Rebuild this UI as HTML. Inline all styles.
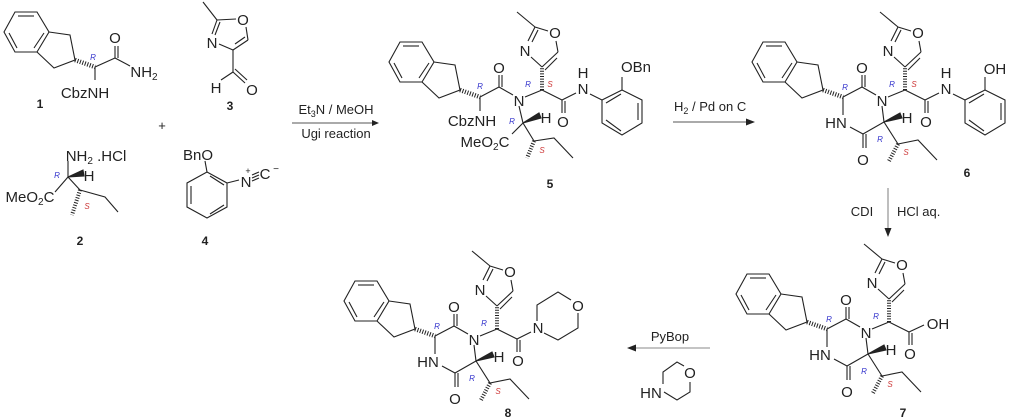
<!DOCTYPE html>
<html><head><meta charset="utf-8"><style>
html,body{margin:0;padding:0;background:#fff;}
svg{display:block}
text{font-family:"Liberation Sans",Arial,sans-serif;fill:#222;}
.a{font-size:15px;}
.r{font-size:8px;font-style:italic;fill:#3333cc;}
.s{font-size:8px;font-style:italic;fill:#cc3333;}
.n{font-size:12px;font-weight:bold;}
.c{font-size:13px;}
</style></head><body>
<svg width="1024" height="419" viewBox="0 0 1024 419" xmlns="http://www.w3.org/2000/svg">
<g stroke="#222" stroke-width="1.1" fill="none">

<g id="c6">
 <polygon points="763,42 785,42 797,62 785,82 763,82 752,62"/>
 <line x1="766" y1="46" x2="782" y2="46"/><line x1="792" y1="63" x2="782" y2="78"/><line x1="765" y1="78" x2="757" y2="63"/>
 <polyline points="797,62 818,65 823,90 802,98 785,82"/>
 <line x1="823" y1="90" x2="843" y2="97" stroke-width="4.5" stroke-dasharray="1,1.6"/>
 <line x1="843" y1="97" x2="862" y2="87"/><line x1="862" y1="87" x2="876" y2="95"/>
 <line x1="882" y1="106" x2="884" y2="122"/><line x1="884" y1="122" x2="863" y2="134"/>
 <line x1="863" y1="134" x2="850" y2="127"/><line x1="843" y1="115" x2="843" y2="97"/>
 <line x1="862" y1="87" x2="862" y2="75"/><line x1="865" y1="87" x2="865" y2="75"/>
 <line x1="863" y1="134" x2="863" y2="148"/><line x1="866" y1="134" x2="866" y2="148"/>
 <polygon points="884,122 900,113 902,118" fill="#222"/>
 <line x1="884" y1="122" x2="898" y2="144"/>
 <line x1="898" y1="144" x2="889" y2="161" stroke-width="4" stroke-dasharray="1,1.6"/>
 <polyline points="898,144 918,140 937,160"/>
 <line x1="888" y1="97" x2="905" y2="90"/>
 <line x1="905" y1="90" x2="905" y2="67" stroke-width="4" stroke-dasharray="1,1.6"/>
 <line x1="905" y1="67" x2="921" y2="52"/><line x1="908" y1="70" x2="920" y2="58"/>
 <line x1="921" y1="52" x2="919" y2="41"/><line x1="911" y1="31" x2="898" y2="27"/>
 <line x1="898" y1="27" x2="891" y2="41"/><line x1="901" y1="30" x2="895" y2="42"/>
 <line x1="894" y1="57" x2="905" y2="67"/><line x1="898" y1="27" x2="880" y2="12"/>
 <line x1="905" y1="90" x2="925" y2="100"/>
 <line x1="925" y1="100" x2="925" y2="113"/><line x1="928" y1="101" x2="928" y2="113"/>
 <line x1="925" y1="100" x2="939" y2="93"/><line x1="953" y1="94" x2="965" y2="100"/>
 <polygon points="965,100 985,90 1005,100 1005,123 985,135 965,123"/>
 <line x1="1001" y1="103" x2="1001" y2="120"/><line x1="969" y1="103" x2="984" y2="94"/><line x1="969" y1="120" x2="984" y2="131"/>
 <line x1="985" y1="90" x2="985" y2="77"/>
</g>

<g transform="translate(-16,232)">
 <polygon points="763,42 785,42 797,62 785,82 763,82 752,62"/>
 <line x1="766" y1="46" x2="782" y2="46"/><line x1="792" y1="63" x2="782" y2="78"/><line x1="765" y1="78" x2="757" y2="63"/>
 <polyline points="797,62 818,65 823,90 802,98 785,82"/>
 <line x1="823" y1="90" x2="843" y2="97" stroke-width="4.5" stroke-dasharray="1,1.6"/>
 <line x1="843" y1="97" x2="862" y2="87"/><line x1="862" y1="87" x2="876" y2="95"/>
 <line x1="882" y1="106" x2="884" y2="122"/><line x1="884" y1="122" x2="863" y2="134"/>
 <line x1="863" y1="134" x2="850" y2="127"/><line x1="843" y1="115" x2="843" y2="97"/>
 <line x1="862" y1="87" x2="862" y2="75"/><line x1="865" y1="87" x2="865" y2="75"/>
 <line x1="863" y1="134" x2="863" y2="148"/><line x1="866" y1="134" x2="866" y2="148"/>
 <polygon points="884,122 900,113 902,118" fill="#222"/>
 <line x1="884" y1="122" x2="898" y2="144"/>
 <line x1="898" y1="144" x2="889" y2="161" stroke-width="4" stroke-dasharray="1,1.6"/>
 <polyline points="898,144 918,140 937,160"/>
 <line x1="888" y1="97" x2="905" y2="90"/>
 <line x1="905" y1="90" x2="905" y2="67" stroke-width="4" stroke-dasharray="1,1.6"/>
 <line x1="905" y1="67" x2="921" y2="52"/><line x1="908" y1="70" x2="920" y2="58"/>
 <line x1="921" y1="52" x2="919" y2="41"/><line x1="911" y1="31" x2="898" y2="27"/>
 <line x1="898" y1="27" x2="891" y2="41"/><line x1="901" y1="30" x2="895" y2="42"/>
 <line x1="894" y1="57" x2="905" y2="67"/><line x1="898" y1="27" x2="880" y2="12"/>
 <line x1="905" y1="90" x2="925" y2="100"/>
 <line x1="925" y1="100" x2="925" y2="113"/><line x1="928" y1="101" x2="928" y2="113"/>
 <line x1="925" y1="100" x2="940" y2="93"/>
</g>

<g transform="translate(-408,239)">
 <polygon points="763,42 785,42 797,62 785,82 763,82 752,62"/>
 <line x1="766" y1="46" x2="782" y2="46"/><line x1="792" y1="63" x2="782" y2="78"/><line x1="765" y1="78" x2="757" y2="63"/>
 <polyline points="797,62 818,65 823,90 802,98 785,82"/>
 <line x1="823" y1="90" x2="843" y2="97" stroke-width="4.5" stroke-dasharray="1,1.6"/>
 <line x1="843" y1="97" x2="862" y2="87"/><line x1="862" y1="87" x2="876" y2="95"/>
 <line x1="882" y1="106" x2="884" y2="122"/><line x1="884" y1="122" x2="863" y2="134"/>
 <line x1="863" y1="134" x2="850" y2="127"/><line x1="843" y1="115" x2="843" y2="97"/>
 <line x1="862" y1="87" x2="862" y2="75"/><line x1="865" y1="87" x2="865" y2="75"/>
 <line x1="863" y1="134" x2="863" y2="148"/><line x1="866" y1="134" x2="866" y2="148"/>
 <polygon points="884,122 900,113 902,118" fill="#222"/>
 <line x1="884" y1="122" x2="898" y2="144"/>
 <line x1="898" y1="144" x2="889" y2="161" stroke-width="4" stroke-dasharray="1,1.6"/>
 <polyline points="898,144 918,140 937,160"/>
 <line x1="888" y1="97" x2="905" y2="90"/>
 <line x1="905" y1="90" x2="905" y2="67" stroke-width="4" stroke-dasharray="1,1.6"/>
 <line x1="905" y1="67" x2="921" y2="52"/><line x1="908" y1="70" x2="920" y2="58"/>
 <line x1="921" y1="52" x2="919" y2="41"/><line x1="911" y1="31" x2="898" y2="27"/>
 <line x1="898" y1="27" x2="891" y2="41"/><line x1="901" y1="30" x2="895" y2="42"/>
 <line x1="894" y1="57" x2="905" y2="67"/><line x1="898" y1="27" x2="880" y2="12"/>
 <line x1="905" y1="90" x2="925" y2="100"/>
 <line x1="925" y1="100" x2="925" y2="113"/><line x1="928" y1="101" x2="928" y2="113"/>
 <line x1="925" y1="100" x2="939" y2="93"/>
 <polyline points="945,82 945,66 966,53 979,61"/>
 <polyline points="986,74 986,89 966,101 952,94"/>
</g>

<g transform="translate(-363,0)">
 <polygon points="763,42 785,42 797,62 785,82 763,82 752,62"/>
 <line x1="766" y1="46" x2="782" y2="46"/><line x1="792" y1="63" x2="782" y2="78"/><line x1="765" y1="78" x2="757" y2="63"/>
 <polyline points="797,62 818,65 823,90 802,98 785,82"/>
 <line x1="823" y1="90" x2="843" y2="97" stroke-width="4.5" stroke-dasharray="1,1.6"/>
 <line x1="843" y1="97" x2="862" y2="87"/><line x1="862" y1="87" x2="876" y2="95"/>
 <line x1="843" y1="97" x2="843" y2="111"/>
 <line x1="862" y1="87" x2="862" y2="75"/><line x1="865" y1="87" x2="865" y2="75"/>
 <line x1="882" y1="106" x2="886" y2="123"/>
 <polygon points="886,123 902,113 904,118" fill="#222"/>
 <line x1="886" y1="123" x2="875" y2="134"/>
 <line x1="886" y1="123" x2="897" y2="141"/>
 <line x1="897" y1="141" x2="890" y2="158" stroke-width="4" stroke-dasharray="1,1.6"/>
 <polyline points="897,141 917,138 936,158"/>
 <line x1="888" y1="97" x2="905" y2="90"/>
 <line x1="905" y1="90" x2="905" y2="67" stroke-width="4" stroke-dasharray="1,1.6"/>
 <line x1="905" y1="67" x2="921" y2="52"/><line x1="908" y1="70" x2="920" y2="58"/>
 <line x1="921" y1="52" x2="919" y2="41"/><line x1="911" y1="31" x2="898" y2="27"/>
 <line x1="898" y1="27" x2="891" y2="41"/><line x1="901" y1="30" x2="895" y2="42"/>
 <line x1="894" y1="57" x2="905" y2="67"/><line x1="898" y1="27" x2="880" y2="12"/>
 <line x1="905" y1="90" x2="925" y2="100"/>
 <line x1="925" y1="100" x2="925" y2="113"/><line x1="928" y1="101" x2="928" y2="113"/>
 <line x1="925" y1="100" x2="939" y2="93"/><line x1="953" y1="94" x2="965" y2="100"/>
 <polygon points="965,100 985,90 1005,100 1005,123 985,135 965,123"/>
 <line x1="1001" y1="103" x2="1001" y2="120"/><line x1="969" y1="103" x2="984" y2="94"/><line x1="969" y1="120" x2="984" y2="131"/>
 <line x1="985" y1="90" x2="985" y2="77"/>
</g>

<g transform="translate(-748,-30)">
 <polygon points="763,42 785,42 797,62 785,82 763,82 752,62"/>
 <line x1="766" y1="46" x2="782" y2="46"/><line x1="792" y1="63" x2="782" y2="78"/><line x1="765" y1="78" x2="757" y2="63"/>
 <polyline points="797,62 818,65 823,90 802,98 785,82"/>
 <line x1="823" y1="90" x2="843" y2="97" stroke-width="4.5" stroke-dasharray="1,1.6"/>
</g>
<line x1="95" y1="67" x2="115" y2="58"/>
<line x1="115" y1="58" x2="115" y2="46"/><line x1="118" y1="58" x2="118" y2="46"/>
<line x1="115" y1="58" x2="130" y2="66"/>
<line x1="95" y1="67" x2="95" y2="80"/>

<line x1="203" y1="2" x2="217" y2="20"/>
<line x1="217" y1="20" x2="236" y2="19"/>
<line x1="246" y1="27" x2="248" y2="40"/>
<line x1="248" y1="40" x2="233" y2="50"/><line x1="245" y1="37" x2="235" y2="44"/>
<line x1="233" y1="50" x2="219" y2="44"/>
<line x1="217" y1="20" x2="212" y2="34"/><line x1="220" y1="22" x2="215" y2="35"/>
<line x1="233" y1="50" x2="233" y2="72"/>
<line x1="233" y1="72" x2="221" y2="80"/>
<line x1="233" y1="72" x2="245" y2="83"/><line x1="235" y1="69" x2="247" y2="80"/>

<line x1="68" y1="161" x2="68" y2="177"/>
<polygon points="68,177 83,170 84,176" fill="#222"/>
<line x1="68" y1="177" x2="55" y2="192"/>
<line x1="68" y1="177" x2="80" y2="190"/>
<line x1="80" y1="190" x2="72" y2="215" stroke-width="4" stroke-dasharray="1,1.6"/>
<polyline points="80,190 105,197 118,212"/>

<polygon points="207,172 227,183 227,207 207,218 187,207 187,183"/>
<line x1="191" y1="186" x2="191" y2="204"/><line x1="210" y1="214" x2="224" y2="205"/><line x1="210" y1="176" x2="224" y2="185"/>
<line x1="207" y1="172" x2="205" y2="161"/>
<line x1="227" y1="183" x2="239" y2="180"/>
<line x1="252" y1="178" x2="259" y2="175"/><line x1="252" y1="181" x2="259" y2="178"/><line x1="252" y1="175" x2="259" y2="172"/>

<polyline points="663,384 663,372 677,362 684,366"/>
<polyline points="690,382 690,392 677,400 664,392"/>

<line x1="292" y1="123" x2="374" y2="123" stroke="#555"/>
<line x1="673" y1="122" x2="748" y2="122" stroke="#555"/>
<line x1="888" y1="188" x2="888" y2="230" stroke="#888"/>
<line x1="633" y1="348" x2="710" y2="348" stroke="#888"/>
</g>
<g fill="#222">
<polygon points="379,123 372,120 372,126"/>
<polygon points="755,122 746,118.5 746,125.5"/>
<polygon points="888,237 884.5,228 891.5,228"/>
<polygon points="627,348 636,344.5 636,351.5"/>
</g>

<g class="a" text-anchor="middle">
<text x="862" y="73">O</text><text x="863" y="165">O</text><text x="882" y="106">N</text>
<text x="836" y="128">HN</text><text x="907" y="123">H</text>
<text x="918" y="38">O</text><text x="888" y="56">N</text>
<text x="926" y="127">O</text><text x="946" y="94">N</text><text x="946" y="78">H</text>
<text x="995" y="74">OH</text>
<g transform="translate(-16,232)">
<text x="862" y="73">O</text><text x="863" y="165">O</text><text x="882" y="106">N</text>
<text x="836" y="128">HN</text><text x="907" y="123">H</text>
<text x="918" y="38">O</text><text x="888" y="56">N</text>
<text x="926" y="127">O</text><text x="954" y="97">OH</text>
</g>
<g transform="translate(-408,239)">
<text x="862" y="73">O</text><text x="863" y="165">O</text><text x="882" y="106">N</text>
<text x="836" y="128">HN</text><text x="907" y="123">H</text>
<text x="918" y="38">O</text><text x="888" y="56">N</text>
<text x="926" y="127">O</text><text x="946" y="94">N</text><text x="986" y="72">O</text>
</g>
<g transform="translate(-363,0)">
<text x="862" y="73">O</text><text x="882" y="106">N</text><text x="909" y="123">H</text>
<text x="918" y="38">O</text><text x="888" y="56">N</text>
<text x="926" y="127">O</text><text x="946" y="94">N</text><text x="946" y="78">H</text>
<text x="999" y="72">OBn</text>
<text x="835" y="126">CbzNH</text>
</g>
<text x="485" y="147">MeO<tspan font-size="10" dy="3">2</tspan><tspan dy="-3">C</tspan></text>
<text x="115" y="43">O</text><text x="144" y="77">NH<tspan font-size="10" dy="3">2</tspan></text>
<text x="85" y="98">CbzNH</text>
<text x="243" y="25">O</text><text x="212" y="48">N</text>
<text x="216" y="93">H</text><text x="252" y="95">O</text>
<text x="96" y="161">NH<tspan font-size="10" dy="3">2</tspan><tspan dy="-3"> .HCl</tspan></text>
<text x="89" y="181">H</text>
<text x="30" y="202">MeO<tspan font-size="10" dy="3">2</tspan><tspan dy="-3">C</tspan></text>
<text x="198" y="160">BnO</text>
<text x="246" y="187">N</text><text x="265" y="179">C</text>
<text x="248" y="174" font-size="9">+</text><text x="276" y="172" font-size="10">−</text>
<text x="651" y="398">HN</text><text x="690" y="378">O</text>
</g>

<g text-anchor="middle">
<text class="r" x="845" y="90">R</text><text class="r" x="880" y="142">R</text>
<text class="r" x="892" y="87">R</text><text class="s" x="914" y="87">S</text><text class="s" x="906" y="155">S</text>
<g transform="translate(-16,232)"><text class="r" x="845" y="90">R</text><text class="r" x="880" y="142">R</text>
<text class="r" x="892" y="87">R</text><text class="s" x="906" y="155">S</text></g>
<g transform="translate(-408,239)"><text class="r" x="845" y="90">R</text><text class="r" x="880" y="142">R</text>
<text class="r" x="892" y="87">R</text><text class="s" x="906" y="155">S</text></g>
<g transform="translate(-363,0)"><text class="r" x="843" y="89">R</text><text class="r" x="875" y="124">R</text>
<text class="r" x="891" y="87">R</text><text class="s" x="913" y="87">S</text><text class="s" x="905" y="153">S</text></g>
<text class="r" x="93" y="60">R</text>
<text class="r" x="57" y="178">R</text><text class="s" x="87" y="209">S</text>
</g>

<g class="n" text-anchor="middle">
<text x="40" y="108">1</text><text x="80" y="245">2</text><text x="230" y="110">3</text><text x="205" y="245">4</text>
<text x="550" y="188">5</text><text x="967" y="177">6</text><text x="903" y="417">7</text><text x="508" y="417">8</text>
</g>
<text x="162" y="130" class="c" text-anchor="middle">+</text>

<g class="c">
<text x="336" y="114" text-anchor="middle">Et<tspan font-size="9" dy="3">3</tspan><tspan dy="-3">N / MeOH</tspan></text>
<text x="336" y="138" text-anchor="middle">Ugi reaction</text>
<text x="674" y="111">H<tspan font-size="9" dy="3">2</tspan><tspan dy="-3"> / Pd on C</tspan></text>
<text x="862" y="216" text-anchor="middle">CDI</text>
<text x="897" y="216">HCl aq.</text>
<text x="670" y="341" text-anchor="middle">PyBop</text>
</g>
</svg>
</body></html>
